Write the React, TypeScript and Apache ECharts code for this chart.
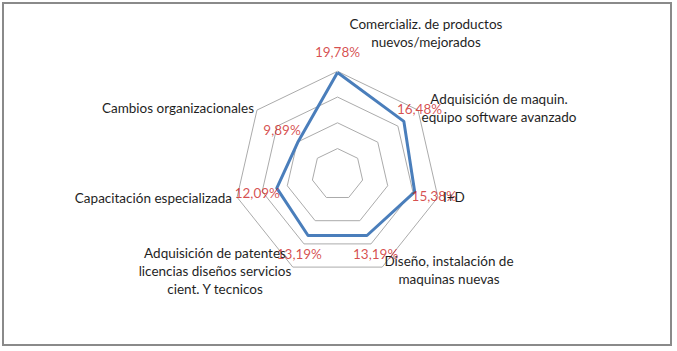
import React, { useEffect, useRef } from "react";
import * as echarts from "echarts";

// ---- data ----
const categories: string[] = [
  "Comercializ. de productos\nnuevos/mejorados",
  "Adquisición de maquin.\nequipo software avanzado",
  "I+D",
  "Diseño, instalación de\nmaquinas nuevas",
  "Adquisición de patentes\nlicencias diseños servicios\ncient. Y tecnicos",
  "Capacitación especializada",
  "Cambios organizacionales",
];
const values: number[] = [19.78, 16.48, 15.38, 13.19, 13.19, 12.09, 9.89];
const valueLabels: string[] = ["19,78%", "16,48%", "15,38%", "13,19%", "13,19%", "12,09%", "9,89%"];
const axisMin = 0;
const axisMax = 20;
const splitCount = 4;

// ---- layout (positions of the category names, Excel-style) ----
const nameLayout: { x: number; y: number; align: "left" | "center" | "right" }[] = [
  { x: 426, y: 33, align: "center" },
  { x: 499, y: 108, align: "center" },
  { x: 443, y: 197, align: "left" },
  { x: 449, y: 270, align: "center" },
  { x: 215, y: 271, align: "center" },
  { x: 232, y: 198, align: "right" },
  { x: 254, y: 108, align: "right" },
];

const CX = 337.5;
const CY = 174.3;
const R = 103;
const FONT = "Lato";
const FS = 13.5;

export default function App() {
  const ref = useRef<HTMLDivElement>(null);
  useEffect(() => {
    if (!ref.current) return;
    const chart = echarts.init(ref.current, undefined, { renderer: "svg" });
    const n = values.length;
    // ECharts radar goes counter-clockwise; reorder so the indicators run clockwise
    const order = [0, ...Array.from({ length: n - 1 }, (_, k) => n - 1 - k)];
    const step = (2 * Math.PI) / n;
    chart.setOption({
      animation: false,
      backgroundColor: "#ffffff",
      radar: {
        center: [CX, CY],
        radius: R,
        startAngle: 90,
        shape: "polygon",
        splitNumber: splitCount,
        indicator: order.map((i) => ({ name: categories[i], min: axisMin, max: axisMax })),
        axisName: { show: false },
        axisLine: { show: false },
        axisTick: { show: false },
        axisLabel: { show: false },
        splitArea: { show: false },
        splitLine: { lineStyle: { color: "#ababab", width: 1 } },
      },
      polar: { center: [CX, CY], radius: R },
      angleAxis: {
        type: "category",
        data: categories,
        boundaryGap: false,
        startAngle: 90,
        clockwise: true,
        show: false,
      },
      radiusAxis: { type: "value", min: axisMin, max: axisMax, show: false },
      series: [
        {
          type: "radar",
          silent: true,
          symbol: "none",
          lineStyle: { color: "#4a7ebb", width: 3 },
          data: [{ value: order.map((i) => values[i]) }],
        },
        {
          type: "scatter",
          coordinateSystem: "polar",
          silent: true,
          symbolSize: 1,
          itemStyle: { color: "rgba(0,0,0,0)" },
          label: {
            show: true,
            position: "inside",
            color: "#cc1f1f",
            fontFamily: FONT,
            fontSize: FS,
            formatter: (p: any) => valueLabels[p.dataIndex],
          },
          data: values.map((v, i) => ({
            value: [v, i],
            label: {
              offset: [20 * Math.sin(i * step), -20 * Math.cos(i * step)],
            },
          })),
          z: 5,
        },
      ],
      graphic: [
        {
          type: "rect",
          silent: true,
          shape: { x: 3, y: 3, width: 668, height: 342 },
          style: { fill: "transparent", stroke: "#8a8a8a", lineWidth: 2 },
        },
        ...categories.map((c, i) => ({
          type: "text",
          silent: true,
          z: 10,
          style: {
            text: c,
            x: nameLayout[i].x,
            y: nameLayout[i].y,
            align: nameLayout[i].align,
            verticalAlign: "middle",
            fill: "#1f1f1f",
            fontFamily: FONT,
            fontSize: FS,
            lineHeight: 18,
          },
        })),
      ],
    });
    return () => chart.dispose();
  }, []);
  return (
    <div
      ref={ref}
      style={{ position: "fixed", left: 0, top: 0, width: 677, height: 351, background: "#fff" }}
    />
  );
}
